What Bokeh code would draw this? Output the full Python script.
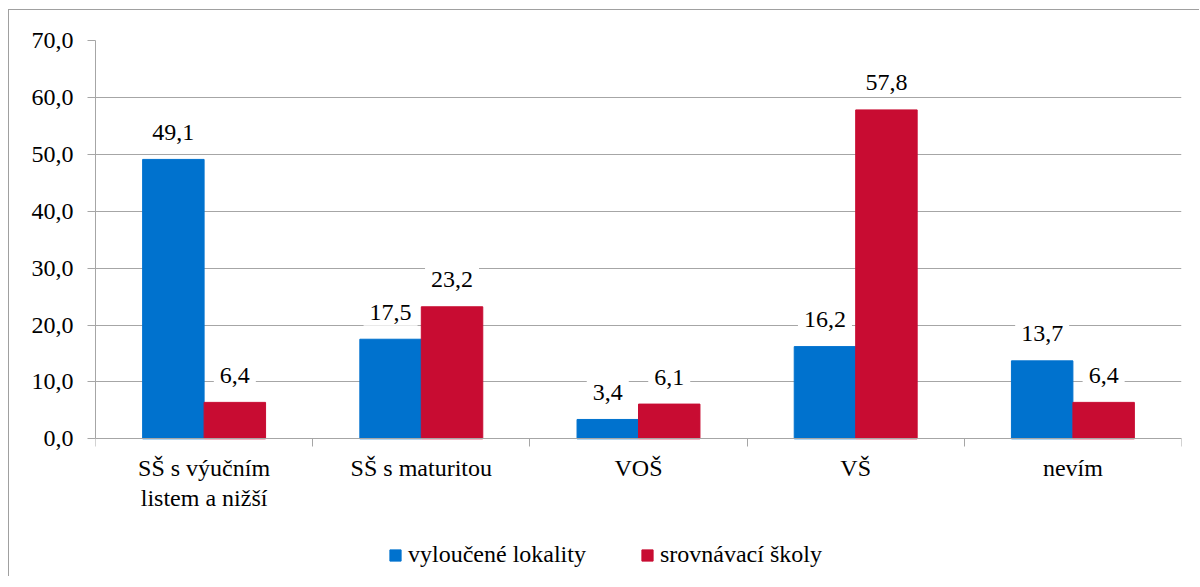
from bokeh.plotting import figure
from bokeh.models import FixedTicker, Label, Legend, LegendItem, ColumnDataSource, Range1d
from bokeh.embed import file_html
from bokeh.resources import INLINE

categories = ["SŠ s výučním\nlistem a nižší", "SŠ s maturitou", "VOŠ", "VŠ", "nevím"]
vyloucene_lokality = [49.1, 17.5, 3.4, 16.2, 13.7]
srovnavaci_skoly = [6.4, 23.2, 6.1, 57.8, 6.4]
series_names = ["vyloučené lokality", "srovnávací školy"]
y_ticks = [0, 10, 20, 30, 40, 50, 60, 70]
y_tick_labels = ["0,0", "10,0", "20,0", "30,0", "40,0", "50,0", "60,0", "70,0"]

BLUE = "#0072CE"
RED = "#C80C32"
GRID = "#a6a6a6"
FONT = "Liberation Serif"


def fmt(v):
    return f"{v:.1f}".replace(".", ",")


n = len(categories)
centers = [i + 0.5 for i in range(n)]
bw = 0.283
off = 0.1415

# the frame reaches below zero so that category labels and the legend sit inside it
p = figure(frame_width=1086, frame_height=536, x_range=Range1d(0, n), y_range=Range1d(-24.2, 70),
           output_backend="svg", toolbar_location=None,
           min_border_left=86, min_border_right=18, min_border_top=30, min_border_bottom=0,
           margin=(9, 0, 0, 8),
           styles={"border-top": "1px solid #a0a0a0", "border-left": "1px solid #a0a0a0"})
p.outline_line_color = None
p.background_fill_color = "white"
p.border_fill_color = "white"

src_a = ColumnDataSource(dict(x=[c - off for c in centers], top=vyloucene_lokality))
src_b = ColumnDataSource(dict(x=[c + off for c in centers], top=srovnavaci_skoly))
r1 = p.vbar(x="x", top="top", bottom=0, width=bw, source=src_a, fill_color=BLUE, line_color=BLUE)
r2 = p.vbar(x="x", top="top", bottom=0, width=bw, source=src_b, fill_color=RED, line_color=RED)

for xs, vals in ((src_a.data["x"], vyloucene_lokality), (src_b.data["x"], srovnavaci_skoly)):
    for x, v in zip(xs, vals):
        p.add_layout(Label(x=x, y=v, text=fmt(v), y_offset=27, text_align="center",
                           text_baseline="alphabetic", text_font=FONT, text_font_size="24px",
                           text_color="black", background_fill_color="white", padding=6))

# category labels under the zero line
for c, name in zip(centers, categories):
    p.add_layout(Label(x=c, y=0, text=name, y_offset=-16, text_align="center",
                       text_baseline="top", text_font=FONT, text_font_size="24px",
                       text_color="black", text_line_height=1.15))

# y axis
p.yaxis.ticker = FixedTicker(ticks=y_ticks, minor_ticks=[])
p.yaxis.bounds = (y_ticks[0], y_ticks[-1])
p.yaxis.major_label_overrides = {t: l for t, l in zip(y_ticks, y_tick_labels)}
p.yaxis.major_label_text_font = FONT
p.yaxis.major_label_text_font_size = "24px"
p.yaxis.major_label_text_color = "black"
p.yaxis.major_tick_out = 8
p.yaxis.major_tick_in = 0
p.yaxis.minor_tick_out = 0
p.yaxis.major_label_standoff = 14
p.yaxis.axis_line_color = GRID
p.yaxis.major_tick_line_color = GRID

# x axis drawn on the zero line, with ticks between categories
p.xaxis.fixed_location = 0
p.xaxis.ticker = FixedTicker(ticks=centers, minor_ticks=list(range(n + 1)))
p.xaxis.major_label_overrides = {c: "" for c in centers}
p.xaxis.major_label_text_font_size = "1px"
p.xaxis.major_tick_out = 0
p.xaxis.major_tick_in = 0
p.xaxis.minor_tick_out = 8
p.xaxis.minor_tick_in = 0
p.xaxis.major_label_standoff = 0
p.xaxis.axis_line_color = GRID
p.xaxis.minor_tick_line_color = GRID

p.xgrid.visible = False
p.ygrid.ticker = FixedTicker(ticks=y_ticks)
p.ygrid.grid_line_color = GRID
p.ygrid.grid_line_width = 1

legend = Legend(items=[LegendItem(label=series_names[0], renderers=[r1]),
                       LegendItem(label=series_names[1], renderers=[r2])],
                orientation="horizontal", location=(293, 8), glyph_width=14, glyph_height=14,
                label_text_font=FONT, label_text_font_size="24px", label_text_color="black",
                spacing=54, label_standoff=6,
                border_line_color=None, background_fill_alpha=0, margin=0, padding=0)
p.add_layout(legend, "center")

open("out.html", "w").write(file_html(p, INLINE))
